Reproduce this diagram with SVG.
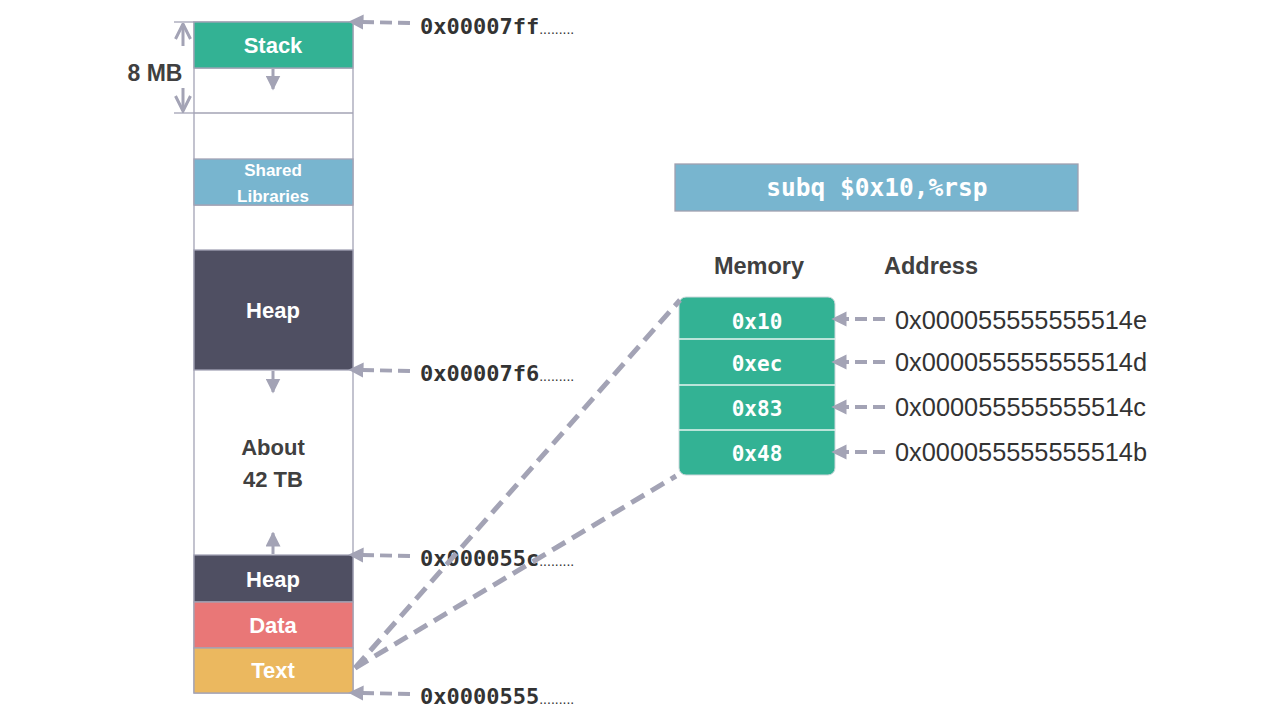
<svg xmlns="http://www.w3.org/2000/svg" width="1280" height="720" viewBox="0 0 1280 720">
<defs>
<marker id="ah" viewBox="0 0 10 10" refX="1" refY="5" markerWidth="3.8" markerHeight="3.8" markerUnits="strokeWidth" orient="auto-start-reverse"><path d="M0,0 L10,5 L0,10 z" fill="#a3a3b5"/></marker>
<marker id="sa" viewBox="0 0 10 10" refX="9" refY="5" markerWidth="5" markerHeight="5" markerUnits="strokeWidth" orient="auto"><path d="M0,0 L10,5 L0,10 z" fill="#a3a3b5"/></marker>
<marker id="dim" viewBox="0 0 12 12" refX="11" refY="6" markerWidth="6" markerHeight="6" markerUnits="strokeWidth" orient="auto"><path d="M1,1 L11,6 L1,11" fill="none" stroke="#a3a3b5" stroke-width="2"/></marker>
</defs>
<style>
.seg{stroke:#a3a3b5;stroke-width:1.3}
.lbl{font-family:"Liberation Sans",Arial,sans-serif;font-weight:bold;font-size:22px;text-anchor:middle;fill:#ffffff}
.dark{fill:#404040}
.mono{font-family:"DejaVu Sans Mono","Liberation Mono",monospace;font-weight:bold}
.addr{font-size:22px;fill:#333333}
.dots{font-family:"Liberation Sans",Arial,sans-serif;font-weight:normal;font-size:14px}
.hex{font-family:"Liberation Sans",Arial,sans-serif;font-size:25.5px;fill:#333333}
.byte{font-size:21px;fill:#ffffff;text-anchor:middle}
.dash{stroke:#a3a3b5;stroke-width:4;stroke-dasharray:12 6;fill:none}
.diag{stroke:#a3a3b5;stroke-width:5;stroke-dasharray:15 8;fill:none}
.grow{stroke:#a3a3b5;stroke-width:3;fill:none}
</style>
<rect width="1280" height="720" fill="#ffffff"/>

<g id="memory-column">
<rect x="194" y="22" width="159" height="671" fill="#ffffff" class="seg"/>
<line x1="194" y1="113" x2="353" y2="113" class="seg"/>
<line x1="194" y1="68" x2="353" y2="68" class="seg"/>
<line x1="194" y1="205" x2="353" y2="205" class="seg"/>
</g>
<g id="stack">
<rect x="194" y="22" width="159" height="46" fill="#33b294" class="seg"/>
<text x="273" y="53" class="lbl">Stack</text>
</g>
<g id="shared-libraries">
<rect x="194" y="159" width="159" height="46" fill="#78b5cf" class="seg"/>
<text x="273" y="176" class="lbl" style="font-size:17px">Shared</text>
<text x="273" y="202" class="lbl" style="font-size:17px">Libraries</text>
</g>
<g id="heap-top">
<rect x="194" y="250" width="159" height="120" fill="#4f4f62" class="seg"/>
<text x="273" y="318" class="lbl">Heap</text>
</g>
<g id="gap">
<text x="273" y="455" class="lbl dark">About</text>
<text x="273" y="487" class="lbl dark">42 TB</text>
</g>
<g id="heap-bottom">
<rect x="194" y="555" width="159" height="47" fill="#4f4f62" class="seg"/>
<text x="273" y="587" class="lbl">Heap</text>
</g>
<g id="data">
<rect x="194" y="602" width="159" height="46" fill="#e97777" class="seg"/>
<text x="273" y="633" class="lbl">Data</text>
</g>
<g id="text-seg">
<rect x="194" y="648" width="159" height="45" fill="#ebb85f" class="seg"/>
<text x="273" y="678" class="lbl">Text</text>
</g>

<g id="size-8mb">
<line x1="174" y1="22" x2="194" y2="22" class="seg" stroke-width="2"/>
<line x1="174" y1="113" x2="194" y2="113" class="seg" stroke-width="2"/>
<line x1="183" y1="46" x2="183" y2="24" class="grow" stroke-width="2" marker-end="url(#dim)"/>
<line x1="183" y1="88" x2="183" y2="111" class="grow" stroke-width="2" marker-end="url(#dim)"/>
<text x="155" y="81" class="lbl dark" style="font-size:23px">8 MB</text>
</g>

<g id="boundary-labels">
<text x="420" y="34" class="mono addr">0x00007ff<tspan class="dots">.........</tspan></text>
<text x="420" y="381" class="mono addr">0x00007f6<tspan class="dots">.........</tspan></text>
<text x="420" y="566" class="mono addr">0x000055c<tspan class="dots">.........</tspan></text>
<text x="420" y="704" class="mono addr">0x0000555<tspan class="dots">.........</tspan></text>
</g>

<g id="instruction">
<rect x="675" y="164" width="403" height="47" fill="#78b5cf" stroke="#a0a0b0" stroke-width="1.3"/>
<text x="877" y="196" class="mono" style="font-size:24.5px;fill:#ffffff;text-anchor:middle">subq $0x10,%rsp</text>
</g>

<g id="headers">
<text x="759" y="274" class="lbl dark" style="font-size:23.5px">Memory</text>
<text x="931" y="274" class="lbl dark" style="font-size:23.5px">Address</text>
</g>

<g id="memory-bytes">
<rect x="679" y="297" width="156" height="178" rx="7" fill="#33b294" stroke="#cfd8dc" stroke-width="1"/>
<line x1="679" y1="339" x2="835" y2="339" stroke="#e8f4f0" stroke-width="1.3"/>
<line x1="679" y1="385" x2="835" y2="385" stroke="#e8f4f0" stroke-width="1.3"/>
<line x1="679" y1="430" x2="835" y2="430" stroke="#e8f4f0" stroke-width="1.3"/>
<text x="757" y="329" class="mono byte">0x10</text>
<text x="757" y="371" class="mono byte">0xec</text>
<text x="757" y="416" class="mono byte">0x83</text>
<text x="757" y="461" class="mono byte">0x48</text>
</g>

<g id="byte-addresses">
<text x="895" y="329" class="hex" textLength="252" lengthAdjust="spacingAndGlyphs">0x000055555555514e</text>
<text x="895" y="371" class="hex" textLength="252" lengthAdjust="spacingAndGlyphs">0x000055555555514d</text>
<text x="895" y="416" class="hex" textLength="251" lengthAdjust="spacingAndGlyphs">0x000055555555514c</text>
<text x="895" y="461" class="hex" textLength="252" lengthAdjust="spacingAndGlyphs">0x000055555555514b</text>
</g>

<g id="connectors">
<line x1="410" y1="23" x2="362" y2="22" class="dash" marker-end="url(#ah)"/>
<line x1="410" y1="371" x2="362" y2="370" class="dash" marker-end="url(#ah)"/>
<line x1="410" y1="556" x2="362" y2="555" class="dash" marker-end="url(#ah)"/>
<line x1="410" y1="694" x2="362" y2="693" class="dash" marker-end="url(#ah)"/>
<line x1="885" y1="319" x2="845" y2="319" class="dash" marker-end="url(#ah)"/>
<line x1="885" y1="362" x2="845" y2="362" class="dash" marker-end="url(#ah)"/>
<line x1="885" y1="407" x2="845" y2="407" class="dash" marker-end="url(#ah)"/>
<line x1="885" y1="452" x2="845" y2="452" class="dash" marker-end="url(#ah)"/>
<line x1="355" y1="668" x2="680" y2="300" class="diag"/>
<line x1="355" y1="668" x2="676" y2="476" class="diag"/>
<line x1="273" y1="69" x2="273" y2="89" class="grow" marker-end="url(#sa)"/>
<line x1="273" y1="371" x2="273" y2="392" class="grow" marker-end="url(#sa)"/>
<line x1="273" y1="554" x2="273" y2="533" class="grow" marker-end="url(#sa)"/>
</g>
</svg>
